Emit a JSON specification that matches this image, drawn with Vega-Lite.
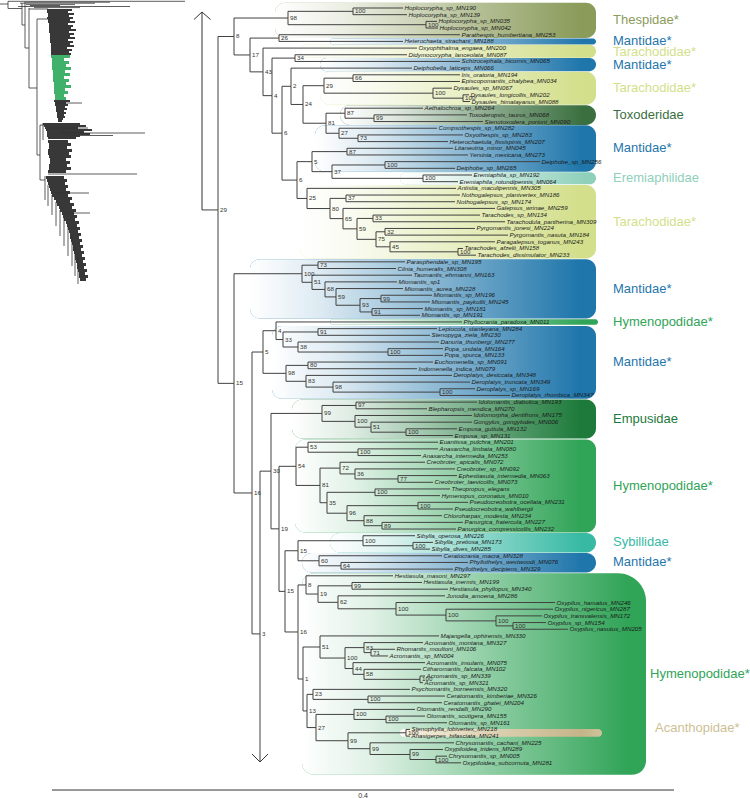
{
"$schema": "https://vega.github.io/schema/vega-lite/v6.json",
"width": 750, "height": 798, "padding": 0,
"autosize": {"type": "none"},
"config": {"view": {"stroke": null}},
"datasets": {
"blob": [
{"seg":"A1","g":0,"py":9,"xl":47,"xr":66},{"seg":"A1","g":0,"py":11,"xl":47,"xr":72},{"seg":"A1","g":0,"py":13,"xl":47,"xr":68},{"seg":"A1","g":0,"py":15,"xl":48,"xr":74},{"seg":"A1","g":0,"py":17,"xl":48,"xr":69},{"seg":"A1","g":0,"py":19,"xl":47,"xr":73},{"seg":"A1","g":0,"py":21,"xl":48,"xr":70},{"seg":"A1","g":0,"py":23,"xl":48,"xr":75},{"seg":"A1","g":0,"py":25,"xl":49,"xr":68},{"seg":"A1","g":0,"py":27,"xl":49,"xr":73},{"seg":"A1","g":0,"py":29,"xl":49,"xr":71},{"seg":"A1","g":0,"py":31,"xl":49,"xr":76},{"seg":"A1","g":0,"py":33,"xl":49,"xr":69},{"seg":"A1","g":0,"py":35,"xl":50,"xr":74},{"seg":"A1","g":0,"py":37,"xl":50,"xr":70},{"seg":"A1","g":0,"py":39,"xl":50,"xr":75},{"seg":"A1","g":0,"py":41,"xl":50,"xr":68},{"seg":"A1","g":0,"py":43,"xl":50,"xr":73},{"seg":"A1","g":0,"py":45,"xl":51,"xr":70},{"seg":"A1","g":0,"py":47,"xl":51,"xr":74},{"seg":"A1","g":0,"py":49,"xl":51,"xr":67},{"seg":"A1","g":0,"py":51,"xl":51,"xr":72},{"seg":"A1","g":0,"py":53,"xl":51,"xr":69},{"seg":"A1","g":0,"py":55,"xl":51,"xr":71},
{"seg":"G","g":1,"py":55,"xl":51,"xr":66},{"seg":"G","g":1,"py":58,"xl":51,"xr":70},{"seg":"G","g":1,"py":61,"xl":52,"xr":64},{"seg":"G","g":1,"py":64,"xl":52,"xr":69},{"seg":"G","g":1,"py":67,"xl":52,"xr":66},{"seg":"G","g":1,"py":70,"xl":52,"xr":71},{"seg":"G","g":1,"py":73,"xl":53,"xr":65},{"seg":"G","g":1,"py":76,"xl":53,"xr":70},{"seg":"G","g":1,"py":79,"xl":53,"xr":64},{"seg":"G","g":1,"py":82,"xl":53,"xr":69},{"seg":"G","g":1,"py":85,"xl":54,"xr":66},{"seg":"G","g":1,"py":88,"xl":54,"xr":71},{"seg":"G","g":1,"py":91,"xl":54,"xr":65},{"seg":"G","g":1,"py":94,"xl":54,"xr":68},{"seg":"G","g":1,"py":97,"xl":55,"xr":64},{"seg":"G","g":1,"py":100,"xl":55,"xr":66},
{"seg":"A2","g":0,"py":100,"xl":55,"xr":68},{"seg":"A2","g":0,"py":102,"xl":54,"xr":70},{"seg":"A2","g":0,"py":104,"xl":55,"xr":66},{"seg":"A2","g":0,"py":106,"xl":55,"xr":68},{"seg":"A2","g":0,"py":108,"xl":56,"xr":65},{"seg":"A2","g":0,"py":110,"xl":56,"xr":67},{"seg":"A2","g":0,"py":112,"xl":56,"xr":64},{"seg":"A2","g":0,"py":114,"xl":57,"xr":66},{"seg":"A2","g":0,"py":116,"xl":57,"xr":64},{"seg":"A2","g":0,"py":118,"xl":57,"xr":65},{"seg":"A2","g":0,"py":120,"xl":58,"xr":63},{"seg":"A2","g":0,"py":122,"xl":58,"xr":62},
{"seg":"B","g":0,"py":123,"xl":44,"xr":70},{"seg":"B","g":0,"py":125,"xl":43,"xr":80},{"seg":"B","g":0,"py":127,"xl":44,"xr":86},{"seg":"B","g":0,"py":129,"xl":45,"xr":78},{"seg":"B","g":0,"py":131,"xl":46,"xr":92},{"seg":"B","g":0,"py":133,"xl":47,"xr":84},{"seg":"B","g":0,"py":135,"xl":47,"xr":90},{"seg":"B","g":0,"py":137,"xl":47,"xr":80},{"seg":"B","g":0,"py":139,"xl":48,"xr":76},
{"seg":"C","g":0,"py":140,"xl":48,"xr":72},{"seg":"C","g":0,"py":143,"xl":48,"xr":68},{"seg":"C","g":0,"py":146,"xl":49,"xr":71},{"seg":"C","g":0,"py":149,"xl":49,"xr":67},{"seg":"C","g":0,"py":152,"xl":48,"xr":72},{"seg":"C","g":0,"py":155,"xl":48,"xr":69},{"seg":"C","g":0,"py":158,"xl":49,"xr":71},{"seg":"C","g":0,"py":161,"xl":50,"xr":66},{"seg":"C","g":0,"py":164,"xl":50,"xr":70},{"seg":"C","g":0,"py":167,"xl":49,"xr":67},{"seg":"C","g":0,"py":170,"xl":49,"xr":71},{"seg":"C","g":0,"py":173,"xl":48,"xr":66},
{"seg":"D","g":0,"py":176,"xl":45,"xr":68},{"seg":"D","g":0,"py":179,"xl":46,"xr":64},{"seg":"D","g":0,"py":182,"xl":47,"xr":67},{"seg":"D","g":0,"py":185,"xl":48,"xr":65},{"seg":"D","g":0,"py":188,"xl":49,"xr":68},{"seg":"D","g":0,"py":191,"xl":50,"xr":66},{"seg":"D","g":0,"py":194,"xl":51,"xr":70},{"seg":"D","g":0,"py":197,"xl":52,"xr":68},{"seg":"D","g":0,"py":200,"xl":54,"xr":72},{"seg":"D","g":0,"py":203,"xl":56,"xr":70},{"seg":"D","g":0,"py":206,"xl":57,"xr":74},{"seg":"D","g":0,"py":209,"xl":59,"xr":72},{"seg":"D","g":0,"py":212,"xl":60,"xr":76},{"seg":"D","g":0,"py":215,"xl":62,"xr":74},{"seg":"D","g":0,"py":218,"xl":63,"xr":77},{"seg":"D","g":0,"py":221,"xl":64,"xr":75},{"seg":"D","g":0,"py":224,"xl":66,"xr":79},{"seg":"D","g":0,"py":227,"xl":67,"xr":77},{"seg":"D","g":0,"py":230,"xl":68,"xr":80},{"seg":"D","g":0,"py":233,"xl":69,"xr":78},{"seg":"D","g":0,"py":236,"xl":70,"xr":81},{"seg":"D","g":0,"py":239,"xl":70,"xr":79},{"seg":"D","g":0,"py":242,"xl":71,"xr":82},{"seg":"D","g":0,"py":245,"xl":72,"xr":80},{"seg":"D","g":0,"py":248,"xl":73,"xr":83},{"seg":"D","g":0,"py":251,"xl":73,"xr":81},{"seg":"D","g":0,"py":254,"xl":74,"xr":84},{"seg":"D","g":0,"py":257,"xl":75,"xr":82},{"seg":"D","g":0,"py":260,"xl":75,"xr":85},{"seg":"D","g":0,"py":263,"xl":76,"xr":83},{"seg":"D","g":0,"py":266,"xl":77,"xr":86},{"seg":"D","g":0,"py":269,"xl":77,"xr":84},{"seg":"D","g":0,"py":272,"xl":78,"xr":87},{"seg":"D","g":0,"py":275,"xl":79,"xr":85},{"seg":"D","g":0,"py":278,"xl":79,"xr":88},{"seg":"D","g":0,"py":281,"xl":80,"xr":86}
],
"tlines": [
{"a":0,"b":8,"p":4,"q":4},{"a":8,"b":8,"p":1.3,"q":8.5},{"a":8,"b":185,"p":1.3,"q":1.3},{"a":18,"b":130,"p":6.5,"q":6.5},{"a":20,"b":95,"p":3.2,"q":3.2},{"a":24,"b":110,"p":2.2,"q":2.2},{"a":26,"b":75,"p":4.6,"q":4.6},{"a":30,"b":60,"p":5.5,"q":5.5},{"a":34,"b":80,"p":7.6,"q":7.6},{"a":8,"b":22,"p":8.5,"q":8.5},{"a":22,"b":22,"p":3,"q":25},{"a":25,"b":25,"p":3,"q":48},{"a":22,"b":25,"p":25,"q":25},{"a":25,"b":29,"p":48,"q":48},{"a":29,"b":29,"p":8,"q":88},{"a":29,"b":48,"p":9,"q":9},{"a":29,"b":37,"p":88,"q":88},{"a":37,"b":37,"p":19,"q":155},{"a":37,"b":48,"p":19,"q":19},{"a":37,"b":40,"p":155,"q":155},{"a":40,"b":40,"p":125,"q":180},{"a":40,"b":44,"p":125,"q":125},{"a":40,"b":45,"p":180,"q":180},{"a":43,"b":43,"p":123,"q":140},{"a":55,"b":82,"p":103,"q":103},{"a":50,"b":88,"p":128,"q":128},{"a":60,"b":145,"p":133,"q":133},{"a":70,"b":113,"p":135.5,"q":135.5},{"a":48,"b":137,"p":174,"q":174},{"a":55,"b":89,"p":193,"q":193},{"a":65,"b":90,"p":213,"q":213},{"a":45,"b":45,"p":176,"q":200},{"a":48,"b":48,"p":185,"q":206},{"a":52,"b":52,"p":195,"q":215},{"a":56,"b":56,"p":202,"q":226},{"a":60,"b":60,"p":210,"q":236},{"a":64,"b":64,"p":218,"q":246},{"a":68,"b":68,"p":226,"q":256},{"a":72,"b":72,"p":236,"q":266},{"a":75,"b":75,"p":246,"q":276},{"a":78,"b":78,"p":256,"q":284}
],
"tree": [
{"px":202,"pr":31.23,"x":218,"r":31.23,"b":"29"},
{"px":218,"pr":31.23,"x":234,"r":5.265,"b":"8"},
{"px":234,"pr":5.265,"x":288,"r":2.5,"b":"98"},
{"px":288,"pr":2.5,"x":353,"r":1.5,"b":"100"},
{"px":353,"pr":1.5,"x":403,"r":1,"t":"Hoplocorypha_sp_MN190"},
{"px":353,"pr":1.5,"x":407,"r":2,"t":"Hoplocorypha_sp_MN139"},
{"px":288,"pr":2.5,"x":426,"r":3.5,"b":"100"},
{"px":426,"pr":3.5,"x":437,"r":3,"t":"Hoplocorypha_sp_MN035"},
{"px":426,"pr":3.5,"x":438,"r":4,"t":"Hoplocorypha_sp_MN042"},
{"px":234,"pr":5.265,"x":250,"r":8.03,"b":"17"},
{"px":250,"pr":8.03,"x":279,"r":5.5,"b":"26"},
{"px":279,"pr":5.5,"x":460,"r":5,"t":"Parathespis_humbertiana_MN253"},
{"px":279,"pr":5.5,"x":403,"r":6,"t":"Heterochaeta_strachani_MN188"},
{"px":250,"pr":8.03,"x":263,"r":10.56,"b":"43"},
{"px":263,"pr":10.56,"x":417,"r":7,"t":"Oxyophthalma_engaea_MN200"},
{"px":263,"pr":10.56,"x":272,"r":14.12,"b":"4"},
{"px":272,"pr":14.12,"x":295,"r":8.5,"b":"34"},
{"px":295,"pr":8.5,"x":407,"r":8,"t":"Didymocorypha_lanceolata_MN087"},
{"px":295,"pr":8.5,"x":460,"r":9,"t":"Schizocephala_bicornis_MN065"},
{"px":272,"pr":14.12,"x":282,"r":19.74,"b":"6"},
{"px":282,"pr":19.74,"x":291,"r":12.72,"b":"2"},
{"px":291,"pr":12.72,"x":412,"r":10,"t":"Deiphobella_laticeps_MN066"},
{"px":291,"pr":12.72,"x":303,"r":15.44,"b":"24"},
{"px":303,"pr":15.44,"x":324,"r":12.63,"b":"29"},
{"px":324,"pr":12.63,"x":353,"r":11.5,"b":"66"},
{"px":353,"pr":11.5,"x":460,"r":11,"t":"Iris_oratoria_MN194"},
{"px":353,"pr":11.5,"x":460,"r":12,"t":"Episcopomantis_chalybea_MN034"},
{"px":324,"pr":12.63,"x":433,"r":13.75,"b":"100"},
{"px":433,"pr":13.75,"x":452,"r":13,"t":"Dysaules_sp_MN067"},
{"px":433,"pr":13.75,"x":463,"r":14.5,"b":"100"},
{"px":463,"pr":14.5,"x":469,"r":14,"t":"Dysaules_longicollis_MN202"},
{"px":463,"pr":14.5,"x":470,"r":15,"t":"Dysaules_himalayanus_MN088"},
{"px":303,"pr":15.44,"x":326,"r":18.25,"b":"81"},
{"px":326,"pr":18.25,"x":345,"r":16.75,"b":"87"},
{"px":345,"pr":16.75,"x":423,"r":16,"t":"Aethalochroa_sp_MN264"},
{"px":345,"pr":16.75,"x":374,"r":17.5,"b":"99"},
{"px":374,"pr":17.5,"x":467,"r":17,"t":"Toxoderopsis_taurus_MN068"},
{"px":374,"pr":17.5,"x":483,"r":18,"t":"Stenotoxodera_porioni_MN090"},
{"px":326,"pr":18.25,"x":339,"r":19.75,"b":"27"},
{"px":339,"pr":19.75,"x":437,"r":19,"t":"Compsothespis_sp_MN282"},
{"px":339,"pr":19.75,"x":358,"r":20.5,"b":"73"},
{"px":358,"pr":20.5,"x":463,"r":20,"t":"Oxyothespis_sp_MN283"},
{"px":358,"pr":20.5,"x":448,"r":21,"t":"Heterochaetula_fissispinis_MN207"},
{"px":282,"pr":19.74,"x":297,"r":26.76,"b":"6"},
{"px":297,"pr":26.76,"x":312,"r":24,"b":"5"},
{"px":312,"pr":24,"x":347,"r":22.5,"b":"87"},
{"px":347,"pr":22.5,"x":453,"r":22,"t":"Litaneutria_minor_MN045"},
{"px":347,"pr":22.5,"x":468,"r":23,"t":"Yersinia_mexicana_MN273"},
{"px":312,"pr":24,"x":332,"r":25.5,"b":"37"},
{"px":332,"pr":25.5,"x":385,"r":24.5,"b":"100"},
{"px":385,"pr":24.5,"x":540,"r":24,"t":"Deiphobe_sp_MN256"},
{"px":385,"pr":24.5,"x":455,"r":25,"t":"Deiphobe_sp_MN265"},
{"px":332,"pr":25.5,"x":423,"r":26.5,"b":"100"},
{"px":423,"pr":26.5,"x":472,"r":26,"t":"Eremiaphila_sp_MN192"},
{"px":423,"pr":26.5,"x":458,"r":27,"t":"Eremiaphila_rotundipennis_MN064"},
{"px":297,"pr":26.76,"x":307,"r":29.51,"b":"25"},
{"px":307,"pr":29.51,"x":456,"r":28,"t":"Antistia_maculipennis_MN305"},
{"px":307,"pr":29.51,"x":330,"r":31.02,"b":"80"},
{"px":330,"pr":31.02,"x":346,"r":29.5,"b":"37"},
{"px":346,"pr":29.5,"x":460,"r":29,"t":"Nothogalepsus_planivertex_MN186"},
{"px":346,"pr":29.5,"x":455,"r":30,"t":"Nothogalepsus_sp_MN174"},
{"px":330,"pr":31.02,"x":343,"r":32.53,"b":"65"},
{"px":343,"pr":32.53,"x":495,"r":31,"t":"Galepsus_wrinae_MN259"},
{"px":343,"pr":32.53,"x":357,"r":34.06,"b":"59"},
{"px":357,"pr":34.06,"x":373,"r":32.5,"b":"33"},
{"px":373,"pr":32.5,"x":480,"r":32,"t":"Tarachodes_sp_MN134"},
{"px":373,"pr":32.5,"x":505,"r":33,"t":"Tarachodula_pantherina_MN309"},
{"px":357,"pr":34.06,"x":376,"r":35.63,"b":"75"},
{"px":376,"pr":35.63,"x":385,"r":34.5,"b":"32"},
{"px":385,"pr":34.5,"x":475,"r":34,"t":"Pyrgomantis_jonesi_MN224"},
{"px":385,"pr":34.5,"x":508,"r":35,"t":"Pyrgomantis_nasuta_MN184"},
{"px":376,"pr":35.63,"x":390,"r":36.75,"b":"45"},
{"px":390,"pr":36.75,"x":495,"r":36,"t":"Paragalepsus_toganus_MN243"},
{"px":390,"pr":36.75,"x":458,"r":37.5,"b":"100"},
{"px":458,"pr":37.5,"x":463,"r":37,"t":"Tarachodes_afzelii_MN158"},
{"px":458,"pr":37.5,"x":476,"r":38,"t":"Tarachodes_dissimulator_MN233"},
{"px":218,"pr":31.23,"x":234,"r":57.19,"b":"15"},
{"px":234,"pr":57.19,"x":302,"r":40.78,"b":"100"},
{"px":302,"pr":40.78,"x":318,"r":39.5,"b":"73"},
{"px":318,"pr":39.5,"x":405,"r":39,"t":"Parasphendale_sp_MN195"},
{"px":318,"pr":39.5,"x":396,"r":40,"t":"Cilnia_humeralis_MN308"},
{"px":302,"pr":40.78,"x":312,"r":42.06,"b":"51"},
{"px":312,"pr":42.06,"x":412,"r":41,"t":"Taumantis_ehrmanni_MN163"},
{"px":312,"pr":42.06,"x":325,"r":43.13,"b":"68"},
{"px":325,"pr":43.13,"x":397,"r":42,"t":"Miomantis_sp1"},
{"px":325,"pr":43.13,"x":336,"r":44.25,"b":"59"},
{"px":336,"pr":44.25,"x":403,"r":43,"t":"Miomantis_aurea_MN228"},
{"px":336,"pr":44.25,"x":360,"r":45.5,"b":"93"},
{"px":360,"pr":45.5,"x":381,"r":44.5,"b":"99"},
{"px":381,"pr":44.5,"x":432,"r":44,"t":"Miomantis_sp_MN196"},
{"px":381,"pr":44.5,"x":430,"r":45,"t":"Miomantis_paykullii_MN245"},
{"px":360,"pr":45.5,"x":372,"r":46.5,"b":"91"},
{"px":372,"pr":46.5,"x":423,"r":46,"t":"Miomantis_sp_MN181"},
{"px":372,"pr":46.5,"x":420,"r":47,"t":"Miomantis_sp_MN191"},
{"px":234,"pr":57.19,"x":252,"r":73.6,"b":"16"},
{"px":252,"pr":73.6,"x":263,"r":52.5,"b":"5"},
{"px":263,"pr":52.5,"x":276,"r":49.31,"b":"4"},
{"px":276,"pr":49.31,"x":462,"r":48,"t":"Phyllocrania_paradoxa_MN011"},
{"px":276,"pr":49.31,"x":283,"r":50.63,"b":"33"},
{"px":283,"pr":50.63,"x":318,"r":49.5,"b":"91"},
{"px":318,"pr":49.5,"x":437,"r":49,"t":"Leptocola_stanleyana_MN284"},
{"px":318,"pr":49.5,"x":430,"r":50,"t":"Stenopyga_ziela_MN230"},
{"px":283,"pr":50.63,"x":298,"r":51.75,"b":"38"},
{"px":298,"pr":51.75,"x":439,"r":51,"t":"Danuria_thunbergi_MN277"},
{"px":298,"pr":51.75,"x":388,"r":52.5,"b":"100"},
{"px":388,"pr":52.5,"x":443,"r":52,"t":"Popa_undata_MN164"},
{"px":388,"pr":52.5,"x":443,"r":53,"t":"Popa_spurca_MN133"},
{"px":263,"pr":52.5,"x":286,"r":55.69,"b":"98"},
{"px":286,"pr":55.69,"x":308,"r":54.5,"b":"80"},
{"px":308,"pr":54.5,"x":433,"r":54,"t":"Euchomenella_sp_MN091"},
{"px":308,"pr":54.5,"x":417,"r":55,"t":"Indomenella_indica_MN079"},
{"px":286,"pr":55.69,"x":306,"r":56.88,"b":"83"},
{"px":306,"pr":56.88,"x":452,"r":56,"t":"Deroplatys_desiccata_MN348"},
{"px":306,"pr":56.88,"x":333,"r":57.75,"b":"98"},
{"px":333,"pr":57.75,"x":470,"r":57,"t":"Deroplatys_truncata_MN349"},
{"px":333,"pr":57.75,"x":440,"r":58.5,"b":"100"},
{"px":440,"pr":58.5,"x":475,"r":58,"t":"Deroplatys_sp_MN169"},
{"px":440,"pr":58.5,"x":510,"r":59,"t":"Deroplatys_rhombica_MN347"},
{"px":252,"pr":73.6,"x":260,"r":94.7,"b":"3"},
{"px":260,"pr":94.7,"x":260,"r":113.87},
{"px":260,"pr":94.7,"x":271,"r":70.33,"b":"30"},
{"px":271,"pr":70.33,"x":322,"r":61.69,"b":"99"},
{"px":322,"pr":61.69,"x":356,"r":60.5,"b":"97"},
{"px":356,"pr":60.5,"x":477,"r":60,"t":"Idolomantis_diabolica_MN193"},
{"px":356,"pr":60.5,"x":427,"r":61,"t":"Blepharopsis_mendica_MN270"},
{"px":322,"pr":61.69,"x":355,"r":62.88,"b":"100"},
{"px":355,"pr":62.88,"x":472,"r":62,"t":"Idolomorpha_dentifrons_MN175"},
{"px":355,"pr":62.88,"x":371,"r":63.75,"b":"51"},
{"px":371,"pr":63.75,"x":472,"r":63,"t":"Gongylus_gongylodes_MN006"},
{"px":371,"pr":63.75,"x":406,"r":64.5,"b":"100"},
{"px":406,"pr":64.5,"x":457,"r":64,"t":"Empusa_guttula_MN132"},
{"px":406,"pr":64.5,"x":453,"r":65,"t":"Empusa_sp_MN131"},
{"px":271,"pr":70.33,"x":279,"r":78.97,"b":"19"},
{"px":279,"pr":78.97,"x":296,"r":69.61,"b":"54"},
{"px":296,"pr":69.61,"x":308,"r":66.75,"b":"53"},
{"px":308,"pr":66.75,"x":438,"r":66,"t":"Euantissa_pulchra_MN201"},
{"px":308,"pr":66.75,"x":358,"r":67.5,"b":"100"},
{"px":358,"pr":67.5,"x":438,"r":67,"t":"Anaxarcha_limbata_MN080"},
{"px":358,"pr":67.5,"x":421,"r":68,"t":"Anaxarcha_intermedia_MN253"},
{"px":296,"pr":69.61,"x":320,"r":72.47,"b":"81"},
{"px":320,"pr":72.47,"x":340,"r":69.88,"b":"72"},
{"px":340,"pr":69.88,"x":425,"r":69,"t":"Creobroter_apicalis_MN072"},
{"px":340,"pr":69.88,"x":355,"r":70.75,"b":"36"},
{"px":355,"pr":70.75,"x":455,"r":70,"t":"Creobroter_sp_MN092"},
{"px":355,"pr":70.75,"x":398,"r":71.5,"b":"77"},
{"px":398,"pr":71.5,"x":457,"r":71,"t":"Ephestiasula_intermedia_MN063"},
{"px":398,"pr":71.5,"x":433,"r":72,"t":"Creobroter_laevicollis_MN073"},
{"px":320,"pr":72.47,"x":327,"r":75.06,"b":"35"},
{"px":327,"pr":75.06,"x":375,"r":73.5,"b":"100"},
{"px":375,"pr":73.5,"x":450,"r":73,"t":"Theopropus_elegans"},
{"px":375,"pr":73.5,"x":440,"r":74,"t":"Hymenopus_coronatus_MN010"},
{"px":327,"pr":75.06,"x":347,"r":76.63,"b":"96"},
{"px":347,"pr":76.63,"x":418,"r":75.5,"b":"100"},
{"px":418,"pr":75.5,"x":468,"r":75,"t":"Pseudocreobotra_ocellata_MN231"},
{"px":418,"pr":75.5,"x":453,"r":76,"t":"Pseudocreobotra_wahlbergii"},
{"px":347,"pr":76.63,"x":364,"r":77.75,"b":"88"},
{"px":364,"pr":77.75,"x":442,"r":77,"t":"Chloroharpax_modesta_MN234"},
{"px":364,"pr":77.75,"x":382,"r":78.5,"b":"89"},
{"px":382,"pr":78.5,"x":463,"r":78,"t":"Panurgica_fratercula_MN227"},
{"px":382,"pr":78.5,"x":456,"r":79,"t":"Panurgica_compressicollis_MN232"},
{"px":279,"pr":78.97,"x":285,"r":88.33,"b":"15"},
{"px":285,"pr":88.33,"x":298,"r":82.25,"b":"15"},
{"px":298,"pr":82.25,"x":363,"r":80.75,"b":"100"},
{"px":363,"pr":80.75,"x":415,"r":80,"t":"Sibylla_operosa_MN226"},
{"px":363,"pr":80.75,"x":413,"r":81.5,"b":"100"},
{"px":413,"pr":81.5,"x":433,"r":81,"t":"Sibylla_pretiosa_MN173"},
{"px":413,"pr":81.5,"x":430,"r":82,"t":"Sibylla_dives_MN285"},
{"px":298,"pr":82.25,"x":319,"r":83.75,"b":"60"},
{"px":319,"pr":83.75,"x":442,"r":83,"t":"Ceratocrania_macra_MN328"},
{"px":319,"pr":83.75,"x":341,"r":84.5,"b":"64"},
{"px":341,"pr":84.5,"x":468,"r":84,"t":"Phyllothelys_westwoodi_MN076"},
{"px":341,"pr":84.5,"x":453,"r":85,"t":"Phyllothelys_decipiens_MN329"},
{"px":285,"pr":88.33,"x":298,"r":94.41,"b":"16"},
{"px":298,"pr":94.41,"x":306,"r":87.37,"b":"8"},
{"px":306,"pr":87.37,"x":393,"r":86,"t":"Hestiasula_masoni_MN297"},
{"px":306,"pr":87.37,"x":318,"r":88.73,"b":"19"},
{"px":318,"pr":88.73,"x":352,"r":87.5,"b":"99"},
{"px":352,"pr":87.5,"x":422,"r":87,"t":"Hestiasula_inermis_MN199"},
{"px":352,"pr":87.5,"x":448,"r":88,"t":"Hestiasula_phyllopus_MN340"},
{"px":318,"pr":88.73,"x":338,"r":89.97,"b":"62"},
{"px":338,"pr":89.97,"x":445,"r":89,"t":"Junodia_amoena_MN286"},
{"px":338,"pr":89.97,"x":396,"r":90.94,"b":"100"},
{"px":396,"pr":90.94,"x":555,"r":90,"t":"Oxypilus_hamatus_MN246"},
{"px":396,"pr":90.94,"x":446,"r":91.88,"b":"100"},
{"px":446,"pr":91.88,"x":553,"r":91,"t":"Oxypilus_nigericus_MN287"},
{"px":446,"pr":91.88,"x":496,"r":92.75,"b":"100"},
{"px":496,"pr":92.75,"x":542,"r":92,"t":"Oxypilus_transvalensis_MN172"},
{"px":496,"pr":92.75,"x":513,"r":93.5,"b":"100"},
{"px":513,"pr":93.5,"x":546,"r":93,"t":"Oxypilus_sp_MN154"},
{"px":513,"pr":93.5,"x":568,"r":94,"t":"Oxypilus_nasutus_MN205"},
{"px":298,"pr":94.41,"x":303,"r":101.45,"b":"1"},
{"px":303,"pr":101.45,"x":320,"r":96.66,"b":"51"},
{"px":320,"pr":96.66,"x":439,"r":95,"t":"Majangella_ophirensis_MN330"},
{"px":320,"pr":96.66,"x":345,"r":98.31,"b":"100"},
{"px":345,"pr":98.31,"x":364,"r":96.75,"b":"83"},
{"px":364,"pr":96.75,"x":423,"r":96,"t":"Acromantis_montana_MN327"},
{"px":364,"pr":96.75,"x":371,"r":97.5,"b":"71"},
{"px":371,"pr":97.5,"x":395,"r":97,"t":"Rhomantis_moultoni_MN106"},
{"px":371,"pr":97.5,"x":388,"r":98,"t":"Acromantis_sp_MN004"},
{"px":345,"pr":98.31,"x":353,"r":99.88,"b":"44"},
{"px":353,"pr":99.88,"x":425,"r":99,"t":"Acromantis_insularis_MN075"},
{"px":353,"pr":99.88,"x":364,"r":100.75,"b":"58"},
{"px":364,"pr":100.75,"x":421,"r":100,"t":"Citharomantis_falcata_MN102"},
{"px":364,"pr":100.75,"x":420,"r":101.5,"b":"100"},
{"px":420,"pr":101.5,"x":425,"r":101,"t":"Acromantis_sp_MN339"},
{"px":420,"pr":101.5,"x":423,"r":102,"t":"Acromantis_sp_MN321"},
{"px":303,"pr":101.45,"x":307,"r":106.23,"b":"13"},
{"px":307,"pr":106.23,"x":313,"r":103.75,"b":"23"},
{"px":313,"pr":103.75,"x":410,"r":103,"t":"Psychomantis_borneensis_MN320"},
{"px":313,"pr":103.75,"x":368,"r":104.5,"b":"100"},
{"px":368,"pr":104.5,"x":445,"r":104,"t":"Ceratomantis_kimberiae_MN326"},
{"px":368,"pr":104.5,"x":442,"r":105,"t":"Ceratomantis_ghatei_MN204"},
{"px":307,"pr":106.23,"x":316,"r":108.72,"b":"27"},
{"px":316,"pr":108.72,"x":354,"r":106.75,"b":"100"},
{"px":354,"pr":106.75,"x":415,"r":106,"t":"Otomantis_rendalli_MN290"},
{"px":354,"pr":106.75,"x":386,"r":107.5,"b":"100"},
{"px":386,"pr":107.5,"x":425,"r":107,"t":"Otomantis_scutigera_MN155"},
{"px":386,"pr":107.5,"x":447,"r":108,"t":"Otomantis_sp_MN161"},
{"px":316,"pr":108.72,"x":348,"r":110.69,"b":"99"},
{"px":348,"pr":110.69,"x":406,"r":109.5,"b":"100"},
{"px":406,"pr":109.5,"x":410,"r":109,"t":"Stenophylla_lobivertex_MN218"},
{"px":406,"pr":109.5,"x":410,"r":110,"t":"Anasigerpes_bifasciata_MN241"},
{"px":348,"pr":110.69,"x":370,"r":111.88,"b":"99"},
{"px":370,"pr":111.88,"x":454,"r":111,"t":"Chrysomantis_cachani_MN225"},
{"px":370,"pr":111.88,"x":410,"r":112.75,"b":"99"},
{"px":410,"pr":112.75,"x":443,"r":112,"t":"Oxypiloidea_tridens_MN289"},
{"px":410,"pr":112.75,"x":436,"r":113.5,"b":"100"},
{"px":436,"pr":113.5,"x":447,"r":113,"t":"Chrysomantis_sp_MN005"},
{"px":436,"pr":113.5,"x":461,"r":114,"t":"Oxypiloidea_subcornuta_MN281"}
],
"boxes": [
{"fam":"Thespidae","big":0,"x1":275,"x2":596,"r1":0.2,"r2":5.5},
{"fam":"Mantidae","big":0,"x1":330,"x2":596,"r1":5.55,"r2":6.45},
{"fam":"Tarachodidae","big":0,"x1":300,"x2":596,"r1":6.5,"r2":8.45},
{"fam":"Mantidae","big":0,"x1":320,"x2":596,"r1":8.5,"r2":10.45},
{"fam":"Tarachodidae","big":0,"x1":320,"x2":596,"r1":10.55,"r2":15.5},
{"fam":"Toxoderidae","big":0,"x1":340,"x2":596,"r1":15.55,"r2":18.5},
{"fam":"Mantidae","big":0,"x1":315,"x2":596,"r1":18.55,"r2":25.5},
{"fam":"Eremiaphilidae","big":0,"x1":400,"x2":596,"r1":25.6,"r2":27.4},
{"fam":"Tarachodidae","big":0,"x1":300,"x2":596,"r1":27.5,"r2":38.5},
{"fam":"Mantidae","big":0,"x1":250,"x2":596,"r1":38.6,"r2":47.5},
{"fam":"Hymenopodidae","big":0,"x1":330,"x2":598,"r1":47.6,"r2":48.4},
{"fam":"Mantidae","big":0,"x1":272,"x2":596,"r1":48.6,"r2":59.5},
{"fam":"Empusidae","big":0,"x1":292,"x2":596,"r1":59.6,"r2":65.45},
{"fam":"Hymenopodidae","big":0,"x1":295,"x2":596,"r1":65.6,"r2":79.5},
{"fam":"Sibyllidae","big":0,"x1":330,"x2":596,"r1":79.6,"r2":82.5},
{"fam":"Mantidae","big":0,"x1":302,"x2":596,"r1":82.6,"r2":85.5},
{"fam":"Hymenopodidae","big":1,"x1":302,"x2":646,"r1":85.6,"r2":115.8}
],
"acan": [{"x1":400,"x2":602,"r1":108.95,"r2":110.1}],
"lines": [
{"a":202,"b":202,"r":1.6,"s":31.23},{"a":202,"b":194,"r":1.6,"s":2.72},{"a":202,"b":210.5,"r":1.6,"s":2.72},
{"a":260,"b":252,"r":113.87,"s":112.68},{"a":260,"b":268,"r":113.87,"s":112.68},
{"a":52,"b":674,"r":118.07,"s":118.07}
],
"clades": [
{"fam":"Thespidae","txt":"Thespidae*","x":613,"r":2.85},
{"fam":"Mantidae","txt":"Mantidae*","x":613,"r":6.0},
{"fam":"Tarachodidae","txt":"Tarachodidae*","x":613,"r":7.6},
{"fam":"Mantidae","txt":"Mantidae*","x":613,"r":9.5},
{"fam":"Tarachodidae","txt":"Tarachodidae*","x":613,"r":13},
{"fam":"Toxoderidae","txt":"Toxoderidae","x":613,"r":17},
{"fam":"Mantidae","txt":"Mantidae*","x":613,"r":22},
{"fam":"Eremiaphilidae","txt":"Eremiaphilidae","x":613,"r":26.5},
{"fam":"Tarachodidae","txt":"Tarachodidae*","x":613,"r":33},
{"fam":"Mantidae","txt":"Mantidae*","x":613,"r":43},
{"fam":"Hymenopodidae","txt":"Hymenopodidae*","x":613,"r":48},
{"fam":"Mantidae","txt":"Mantidae*","x":613,"r":54},
{"fam":"Empusidae","txt":"Empusidae","x":613,"r":62.5},
{"fam":"Hymenopodidae","txt":"Hymenopodidae*","x":613,"r":72.5},
{"fam":"Sibyllidae","txt":"Sybillidae","x":613,"r":81},
{"fam":"Mantidae","txt":"Mantidae*","x":613,"r":84},
{"fam":"Hymenopodidae","txt":"Hymenopodidae*","x":650,"r":100.7},
{"fam":"Acanthopidae","txt":"Acanthopidae*","x":655,"r":108.8}
],
"scale": [{"txt":"0.4","x":363,"r":118.9}]
},
"layer": [
{"layer": [
 {"data":{"name":"blob"},"transform":[{"filter":"datum.g==0"}],
  "mark":{"type":"area","orient":"horizontal","interpolate":"step-after","color":"#222222","opacity":0.9},
  "encoding":{"y":{"field":"py","type":"quantitative","scale":{"domain":[0,798],"reverse":true,"nice":false,"zero":false},"axis":null},
   "x":{"field":"xl","type":"quantitative","stack":null,"scale":{"domain":[0,750],"nice":false,"zero":false},"axis":null},
   "x2":{"field":"xr"},"detail":{"field":"seg"}}},
 {"data":{"name":"blob"},"transform":[{"filter":"datum.g==1"}],
  "mark":{"type":"area","orient":"horizontal","interpolate":"step-after","color":"#35ad63","opacity":0.95},
  "encoding":{"y":{"field":"py","type":"quantitative","scale":{"domain":[0,798],"reverse":true,"nice":false,"zero":false},"axis":null},
   "x":{"field":"xl","type":"quantitative","stack":null,"scale":{"domain":[0,750],"nice":false,"zero":false},"axis":null},
   "x2":{"field":"xr"},"detail":{"field":"seg"}}},
 {"data":{"name":"tlines"},
  "mark":{"type":"rule","color":"#333333","strokeWidth":0.8},
  "encoding":{"y":{"field":"p","type":"quantitative","scale":{"domain":[0,798],"reverse":true,"nice":false,"zero":false},"axis":null},
   "y2":{"field":"q"},
   "x":{"field":"a","type":"quantitative","scale":{"domain":[0,750],"nice":false,"zero":false},"axis":null},
   "x2":{"field":"b"}}}
]},
{"layer": [
 {"data":{"name":"boxes"},"transform":[{"filter":"datum.big==0"}],
  "mark":{"type":"rect","cornerRadius":10},
  "encoding":{"x":{"field":"x1","type":"quantitative","scale":{"domain":[0,750],"nice":false,"zero":false},"axis":null},"x2":{"field":"x2"},
   "y":{"field":"r1","type":"quantitative","scale":{"domain":[-0.198,119.263],"reverse":true,"nice":false,"zero":false},"axis":null},"y2":{"field":"r2"},
   "color":{"field":"fam","type":"nominal","legend":null,"scale":{"domain":["Thespidae","Mantidae","Tarachodidae","Toxoderidae","Eremiaphilidae","Hymenopodidae","Empusidae","Sibyllidae","Acanthopidae"],"range":["#8a9b5a","#1f76ab","#d3df8b","#3a6f3f","#8fd0bb","#30a457","#1d7a3a","#37b9a4","#cdbf95"]}}}},
 {"data":{"name":"boxes"},"transform":[{"filter":"datum.big==0"}],
  "mark":{"type":"rect","cornerRadius":10,"fill":{"gradient":"linear","x1":0,"y1":0,"x2":1,"y2":0,"stops":[{"offset":0,"color":"rgba(255,255,255,1)"},{"offset":0.2,"color":"rgba(255,255,255,0.85)"},{"offset":0.95,"color":"rgba(255,255,255,0)"}]}},
  "encoding":{"x":{"field":"x1","type":"quantitative","scale":{"domain":[0,750],"nice":false,"zero":false},"axis":null},"x2":{"field":"x2"},
   "y":{"field":"r1","type":"quantitative","scale":{"domain":[-0.198,119.263],"reverse":true,"nice":false,"zero":false},"axis":null},"y2":{"field":"r2"}}},
 {"data":{"name":"boxes"},"transform":[{"filter":"datum.big==1"}],
  "mark":{"type":"rect","cornerRadiusTopRight":28,"cornerRadiusBottomRight":14,"cornerRadiusTopLeft":12,"cornerRadiusBottomLeft":12},
  "encoding":{"x":{"field":"x1","type":"quantitative","scale":{"domain":[0,750],"nice":false,"zero":false},"axis":null},"x2":{"field":"x2"},
   "y":{"field":"r1","type":"quantitative","scale":{"domain":[-0.198,119.263],"reverse":true,"nice":false,"zero":false},"axis":null},"y2":{"field":"r2"},
   "color":{"field":"fam","type":"nominal","legend":null}}},
 {"data":{"name":"boxes"},"transform":[{"filter":"datum.big==1"}],
  "mark":{"type":"rect","cornerRadiusTopRight":28,"cornerRadiusBottomRight":14,"cornerRadiusTopLeft":12,"cornerRadiusBottomLeft":12,"fill":{"gradient":"linear","x1":0,"y1":0,"x2":1,"y2":0,"stops":[{"offset":0,"color":"rgba(255,255,255,1)"},{"offset":0.2,"color":"rgba(255,255,255,0.85)"},{"offset":0.95,"color":"rgba(255,255,255,0)"}]}},
  "encoding":{"x":{"field":"x1","type":"quantitative","scale":{"domain":[0,750],"nice":false,"zero":false},"axis":null},"x2":{"field":"x2"},
   "y":{"field":"r1","type":"quantitative","scale":{"domain":[-0.198,119.263],"reverse":true,"nice":false,"zero":false},"axis":null},"y2":{"field":"r2"}}},
 {"data":{"name":"acan"},
  "mark":{"type":"rect","cornerRadius":4,"fill":{"gradient":"linear","x1":0,"y1":0,"x2":1,"y2":0,"stops":[{"offset":0,"color":"#ffffff"},{"offset":0.06,"color":"#f2ecd8"},{"offset":0.9,"color":"#c4b488"},{"offset":1,"color":"#cfc39c"}]}},
  "encoding":{"x":{"field":"x1","type":"quantitative","scale":{"domain":[0,750],"nice":false,"zero":false},"axis":null},"x2":{"field":"x2"},
   "y":{"field":"r1","type":"quantitative","scale":{"domain":[-0.198,119.263],"reverse":true,"nice":false,"zero":false},"axis":null},"y2":{"field":"r2"}}},
 {"data":{"name":"tree"},
  "mark":{"type":"rule","color":"#404040","strokeWidth":1},
  "encoding":{"x":{"field":"px","type":"quantitative","scale":{"domain":[0,750],"nice":false,"zero":false},"axis":null},"x2":{"field":"x"},
   "y":{"field":"r","type":"quantitative","scale":{"domain":[-0.198,119.263],"reverse":true,"nice":false,"zero":false},"axis":null}}},
 {"data":{"name":"tree"},
  "mark":{"type":"rule","color":"#404040","strokeWidth":1},
  "encoding":{"x":{"field":"px","type":"quantitative","scale":{"domain":[0,750],"nice":false,"zero":false},"axis":null},
   "y":{"field":"pr","type":"quantitative","scale":{"domain":[-0.198,119.263],"reverse":true,"nice":false,"zero":false},"axis":null},"y2":{"field":"r"}}},
 {"data":{"name":"lines"},
  "mark":{"type":"rule","color":"#333333","strokeWidth":1},
  "encoding":{"x":{"field":"a","type":"quantitative","scale":{"domain":[0,750],"nice":false,"zero":false},"axis":null},"x2":{"field":"b"},
   "y":{"field":"r","type":"quantitative","scale":{"domain":[-0.198,119.263],"reverse":true,"nice":false,"zero":false},"axis":null},"y2":{"field":"s"}}},
 {"data":{"name":"tree"},"transform":[{"filter":"isValid(datum.t)"}],
  "mark":{"type":"text","align":"left","baseline":"middle","dx":1.5,"font":"Liberation Sans","fontStyle":"italic","fontSize":6.2,"color":"#1a1a1a"},
  "encoding":{"x":{"field":"x","type":"quantitative","scale":{"domain":[0,750],"nice":false,"zero":false},"axis":null},
   "y":{"field":"r","type":"quantitative","scale":{"domain":[-0.198,119.263],"reverse":true,"nice":false,"zero":false},"axis":null},
   "text":{"field":"t"}}},
 {"data":{"name":"tree"},"transform":[{"filter":"isValid(datum.b)"}],
  "mark":{"type":"text","align":"left","baseline":"middle","dx":2,"font":"Liberation Sans","fontSize":6.2,"color":"#333333"},
  "encoding":{"x":{"field":"x","type":"quantitative","scale":{"domain":[0,750],"nice":false,"zero":false},"axis":null},
   "y":{"field":"r","type":"quantitative","scale":{"domain":[-0.198,119.263],"reverse":true,"nice":false,"zero":false},"axis":null},
   "text":{"field":"b"}}},
 {"data":{"name":"clades"},
  "mark":{"type":"text","align":"left","baseline":"middle","font":"Liberation Sans","fontSize":13},
  "encoding":{"x":{"field":"x","type":"quantitative","scale":{"domain":[0,750],"nice":false,"zero":false},"axis":null},
   "y":{"field":"r","type":"quantitative","scale":{"domain":[-0.198,119.263],"reverse":true,"nice":false,"zero":false},"axis":null},
   "text":{"field":"txt"},
   "color":{"field":"fam","type":"nominal","legend":null}}},
 {"data":{"name":"scale"},
  "mark":{"type":"text","align":"center","baseline":"middle","font":"Liberation Sans","fontSize":7,"color":"#333333"},
  "encoding":{"x":{"field":"x","type":"quantitative","scale":{"domain":[0,750],"nice":false,"zero":false},"axis":null},
   "y":{"field":"r","type":"quantitative","scale":{"domain":[-0.198,119.263],"reverse":true,"nice":false,"zero":false},"axis":null},
   "text":{"field":"txt"}}}
]}
],
"resolve": {"scale": {"y": "independent"}}
}
